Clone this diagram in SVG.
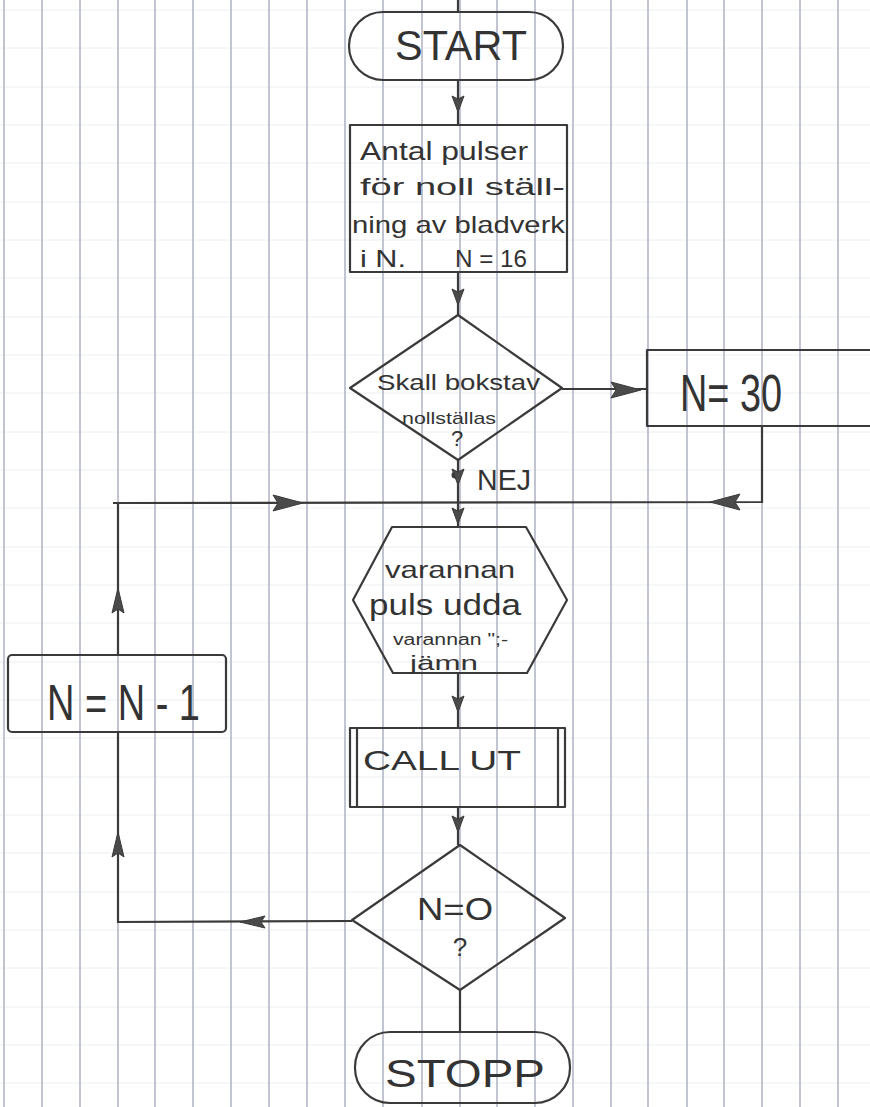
<svg xmlns="http://www.w3.org/2000/svg" width="870" height="1107" viewBox="0 0 870 1107">
  <style>
    .grid-v { stroke: #aeb2c2; stroke-width: 1.5; }
    .grid-h { stroke: #eceef3; stroke-width: 1; }
    .shape { fill: none; stroke: #3a3a3a; stroke-width: 2.2; stroke-linejoin: round; }
    .line { fill: none; stroke: #3a3a3a; stroke-width: 2.2; }
    .head { fill: #4a4a4a; stroke: #3a3a3a; stroke-width: 1; }
    .t { font-family: "Liberation Sans", "DejaVu Sans", sans-serif; fill: #333333; }
    .c { text-anchor: middle; }
  </style>
  <defs>
    <!-- arrowheads, tip at origin, pointing along +x -->
    <path id="ahL" d="M0,0 L-30,-8 L-25,0 L-30,8 Z"/>
    <path id="ahM" d="M0,0 L-25,-6 L-21,0 L-25,6 Z"/>
    <path id="ahS" d="M0,0 L-16,-6 L-13,0 L-16,6 Z"/>
  </defs>

  <!-- squared paper -->
  <rect x="0" y="0" width="870" height="1107" fill="#ffffff"/>
  <g id="paper">
    <g class="grid-h">
      <line x1="0" y1="10" x2="870" y2="10"/>
      <line x1="0" y1="48" x2="870" y2="48"/>
      <line x1="0" y1="87" x2="870" y2="87"/>
      <line x1="0" y1="125" x2="870" y2="125"/>
      <line x1="0" y1="163" x2="870" y2="163"/>
      <line x1="0" y1="202" x2="870" y2="202"/>
      <line x1="0" y1="240" x2="870" y2="240"/>
      <line x1="0" y1="278" x2="870" y2="278"/>
      <line x1="0" y1="317" x2="870" y2="317"/>
      <line x1="0" y1="355" x2="870" y2="355"/>
      <line x1="0" y1="393" x2="870" y2="393"/>
      <line x1="0" y1="432" x2="870" y2="432"/>
      <line x1="0" y1="470" x2="870" y2="470"/>
      <line x1="0" y1="508" x2="870" y2="508"/>
      <line x1="0" y1="547" x2="870" y2="547"/>
      <line x1="0" y1="585" x2="870" y2="585"/>
      <line x1="0" y1="623" x2="870" y2="623"/>
      <line x1="0" y1="662" x2="870" y2="662"/>
      <line x1="0" y1="700" x2="870" y2="700"/>
      <line x1="0" y1="738" x2="870" y2="738"/>
      <line x1="0" y1="777" x2="870" y2="777"/>
      <line x1="0" y1="815" x2="870" y2="815"/>
      <line x1="0" y1="853" x2="870" y2="853"/>
      <line x1="0" y1="892" x2="870" y2="892"/>
      <line x1="0" y1="930" x2="870" y2="930"/>
      <line x1="0" y1="968" x2="870" y2="968"/>
      <line x1="0" y1="1007" x2="870" y2="1007"/>
      <line x1="0" y1="1045" x2="870" y2="1045"/>
      <line x1="0" y1="1083" x2="870" y2="1083"/>
    </g>
    <g class="grid-v">
      <line x1="4" y1="0" x2="4" y2="1107"/>
      <line x1="42" y1="0" x2="42" y2="1107"/>
      <line x1="80" y1="0" x2="80" y2="1107"/>
      <line x1="118" y1="0" x2="118" y2="1107"/>
      <line x1="155" y1="0" x2="155" y2="1107"/>
      <line x1="193" y1="0" x2="193" y2="1107"/>
      <line x1="231" y1="0" x2="231" y2="1107"/>
      <line x1="269" y1="0" x2="269" y2="1107"/>
      <line x1="307" y1="0" x2="307" y2="1107"/>
      <line x1="345" y1="0" x2="345" y2="1107"/>
      <line x1="383" y1="0" x2="383" y2="1107"/>
      <line x1="422" y1="0" x2="422" y2="1107"/>
      <line x1="460" y1="0" x2="460" y2="1107"/>
      <line x1="497" y1="0" x2="497" y2="1107"/>
      <line x1="535" y1="0" x2="535" y2="1107"/>
      <line x1="573" y1="0" x2="573" y2="1107"/>
      <line x1="611" y1="0" x2="611" y2="1107"/>
      <line x1="648" y1="0" x2="648" y2="1107"/>
      <line x1="687" y1="0" x2="687" y2="1107"/>
      <line x1="724" y1="0" x2="724" y2="1107"/>
      <line x1="762" y1="0" x2="762" y2="1107"/>
      <line x1="800" y1="0" x2="800" y2="1107"/>
      <line x1="838" y1="0" x2="838" y2="1107"/>
    </g>
  </g>

  <!-- connectors -->
  <g id="connectors">
    <line class="line" x1="458" y1="0" x2="458" y2="12"/>
    <line class="line" x1="458" y1="81" x2="458" y2="125"/>
    <line class="line" x1="458" y1="273" x2="458" y2="315"/>
    <line class="line" x1="562" y1="389" x2="647" y2="389"/>
    <polyline class="line" points="762,426 762,502 113,503"/>
    <line class="line" x1="458" y1="460" x2="458" y2="527"/>
    <line class="line" x1="458" y1="673" x2="458" y2="728"/>
    <line class="line" x1="458" y1="807" x2="458" y2="845"/>
    <line class="line" x1="460" y1="990" x2="460" y2="1032"/>
    <polyline class="line" points="352,921 118,922 118,732"/>
    <line class="line" x1="118" y1="655" x2="118" y2="503"/>
    <circle cx="455" cy="475" r="3.5" fill="#3a3a3a"/>

    <use href="#ahS" class="head" transform="translate(458,112) rotate(90)"/>
    <use href="#ahS" class="head" transform="translate(458,305) rotate(90)"/>
    <use href="#ahL" class="head" transform="translate(641,390)"/>
    <use href="#ahL" class="head" transform="translate(710,502) rotate(180)"/>
    <use href="#ahL" class="head" transform="translate(303,503)"/>
    <use href="#ahS" class="head" transform="translate(458,485) rotate(90)"/>
    <use href="#ahS" class="head" transform="translate(458,524) rotate(90)"/>
    <use href="#ahS" class="head" transform="translate(458,712) rotate(90)"/>
    <use href="#ahS" class="head" transform="translate(458,832) rotate(90)"/>
    <use href="#ahM" class="head" transform="translate(240,922) rotate(180)"/>
    <use href="#ahM" class="head" transform="translate(118,832) rotate(-90)"/>
    <use href="#ahM" class="head" transform="translate(118,588) rotate(-90)"/>

    <text class="t" x="477" y="490" font-size="30" textLength="54" lengthAdjust="spacingAndGlyphs">NEJ</text>
  </g>

  <!-- nodes -->
  <g id="start">
    <rect class="shape" x="349" y="12" width="214" height="68" rx="34" ry="34"/>
    <text class="t" x="395" y="60" font-size="42" textLength="132" lengthAdjust="spacingAndGlyphs">START</text>
  </g>

  <g id="init">
    <rect class="shape" x="350" y="125" width="217" height="147"/>
    <text class="t" x="360" y="160" font-size="26" textLength="168" lengthAdjust="spacingAndGlyphs">Antal pulser</text>
    <text class="t" x="360" y="195" font-size="24" textLength="205" lengthAdjust="spacingAndGlyphs">för noll ställ-</text>
    <text class="t" x="352" y="233" font-size="24" textLength="213" lengthAdjust="spacingAndGlyphs">ning av bladverk</text>
    <text class="t" x="360" y="267" font-size="24" textLength="46" lengthAdjust="spacingAndGlyphs">i N.</text>
    <text class="t" x="455" y="267" font-size="24" textLength="72" lengthAdjust="spacingAndGlyphs">N = 16</text>
  </g>

  <g id="reset-question">
    <polygon class="shape" points="458,315 562,388 458,460 350,388"/>
    <text class="t" x="377" y="390" font-size="22" textLength="163" lengthAdjust="spacingAndGlyphs">Skall bokstav</text>
    <text class="t" x="402" y="424" font-size="17" textLength="94" lengthAdjust="spacingAndGlyphs">nollställas</text>
    <text class="t c" x="457" y="446" font-size="22">?</text>
  </g>

  <g id="set-30">
    <polyline class="shape" points="870,350 647,350 647,426 870,426"/>
    <text class="t" x="680" y="411" font-size="52" textLength="102" lengthAdjust="spacingAndGlyphs">N= 30</text>
  </g>

  <g id="alternate">
    <polygon class="shape" points="392,527 526,527 567,600 527,673 393,673 353,600"/>
    <text class="t" x="385" y="578" font-size="24" textLength="130" lengthAdjust="spacingAndGlyphs">varannan</text>
    <text class="t" x="369" y="615" font-size="30" textLength="152" lengthAdjust="spacingAndGlyphs">puls udda</text>
    <text class="t" x="393" y="645" font-size="16" textLength="115" lengthAdjust="spacingAndGlyphs">varannan ";-</text>
    <text class="t" x="410" y="670" font-size="21" textLength="68" lengthAdjust="spacingAndGlyphs">jämn</text>
  </g>

  <g id="call-ut">
    <rect class="shape" x="350" y="728" width="215" height="79"/>
    <line class="line" x1="357" y1="728" x2="357" y2="807"/>
    <line class="line" x1="558" y1="728" x2="558" y2="807"/>
    <text class="t" x="363" y="770" font-size="28" textLength="158" lengthAdjust="spacingAndGlyphs">CALL UT</text>
  </g>

  <g id="zero-question">
    <polygon class="shape" points="460,845 565,918 460,990 352,920"/>
    <text class="t" x="417" y="920" font-size="32" textLength="76" lengthAdjust="spacingAndGlyphs">N=O</text>
    <text class="t c" x="460" y="956" font-size="26">?</text>
  </g>

  <g id="decrement">
    <rect class="shape" x="8" y="655" width="218" height="77" rx="4" ry="4"/>
    <text class="t" x="47" y="720" font-size="50" textLength="153" lengthAdjust="spacingAndGlyphs">N = N - 1</text>
  </g>

  <g id="stop">
    <rect class="shape" x="355" y="1032" width="215" height="71" rx="35" ry="35"/>
    <text class="t" x="385" y="1087" font-size="38" textLength="160" lengthAdjust="spacingAndGlyphs">STOPP</text>
  </g>
</svg>
